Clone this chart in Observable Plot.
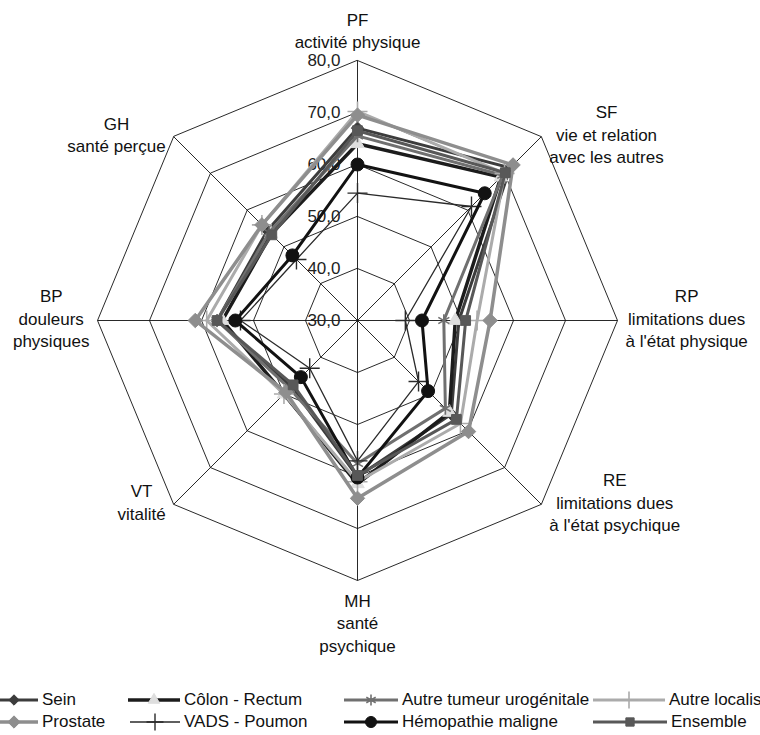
<!DOCTYPE html>
<html><head><meta charset="utf-8">
<script src="https://cdn.jsdelivr.net/npm/d3@7"></script>
<script src="https://cdn.jsdelivr.net/npm/@observablehq/plot@0.6"></script>
<style>
body{margin:0;background:#fff;font-family:"Liberation Sans",Arial,sans-serif;}
#wrap{width:760px;height:735px;position:relative;overflow:hidden;background:#fff;}
#wrap svg.plot{position:absolute;left:0;top:0;}
.leg{position:absolute;height:22px;display:flex;align-items:center;white-space:nowrap;font-size:17px;color:#111;}
.leg svg{flex:none;}
.leg span{margin-left:4px;}
</style></head><body><div id="wrap"></div>
<script>
// ---- data ----
const axes = ["PF","SF","RP","RE","MH","VT","BP","GH"];
const axisLabels = ["PF\nactivité physique","SF\nvie et relation\navec les autres","RP\nlimitations dues\nà l'état physique","RE\nlimitations dues\nà l'état psychique","MH\nsanté\npsychique","VT\nvitalité","BP\ndouleurs\nphysiques","GH\nsanté perçue"];
const ticks = [30,40,50,60,70,80];
const series = ["Sein","Côlon - Rectum","Autre tumeur urogénitale","Autre localisation","Prostate","VADS - Poumon","Hémopathie maligne","Ensemble"];
//                  PF    SF    RP    RE    MH    VT    BP    GH
const sein       = [67.0, 71.5, 49.5, 55.5, 60.0, 48.0, 57.0, 54.5];
const colon      = [64.0, 69.0, 48.8, 55.0, 61.4, 50.0, 56.0, 53.5];
const autreUro   = [65.5, 69.5, 46.6, 53.9, 57.5, 48.5, 57.0, 54.0];
const autreLoc   = [70.2, 70.0, 53.0, 58.0, 61.0, 50.0, 59.0, 56.0];
const prostate   = [69.5, 72.3, 55.5, 60.2, 64.2, 49.5, 61.2, 56.0];
const vads       = [54.5, 61.0, 39.2, 46.6, 57.0, 43.0, 52.5, 46.6];
const hemo       = [60.0, 64.6, 42.4, 49.2, 60.2, 45.4, 53.5, 47.7];
const ensemble   = [66.5, 70.2, 50.8, 56.9, 59.8, 47.5, 57.0, 53.3];
const seriesValues = [sein, colon, autreUro, autreLoc, prostate, vads, hemo, ensemble];

// ---- styles ----
const styles = [
  {stroke:"#3c3c3c", sw:3,   symbol:"diamond2", mfill:"#3c3c3c", mstroke:"#3c3c3c", r:5.5},
  {stroke:"#1c1c1c", sw:3.5, symbol:"triangle", mfill:"#dedede", mstroke:"#dedede", r:5},
  {stroke:"#707070", sw:3,   symbol:"asterisk", mfill:"none",    mstroke:"#707070", r:6, msw:1.6},
  {stroke:"#ababab", sw:3,   symbol:"plus",     mfill:"none",    mstroke:"#ababab", r:6.5, msw:1.6},
  {stroke:"#8e8e8e", sw:3.5, symbol:"diamond2", mfill:"#8e8e8e", mstroke:"#8e8e8e", r:6.5},
  {stroke:"#2a2a2a", sw:1.3, symbol:"plus",     mfill:"none",    mstroke:"#2a2a2a", r:6.5, msw:1.4},
  {stroke:"#121212", sw:3,   symbol:"circle",   mfill:"#121212", mstroke:"#121212", r:6.5},
  {stroke:"#585858", sw:3,   symbol:"square",   mfill:"#585858", mstroke:"#585858", r:5.5}
];

const W = 760, H = 680, K = 5.2, CX = 357, CY = 320, BASE = 30, MAXV = 80;
const ang = i => i * Math.PI / 4;

const marks = [];
// grid rings
const ringData = ticks.filter(t => t > BASE).flatMap(t => axes.map((a, i) => ({t, i})));
marks.push(Plot.line(ringData, {x: d => (d.t - BASE) * Math.sin(ang(d.i)), y: d => (d.t - BASE) * Math.cos(ang(d.i)), z: "t", curve: "linear-closed", stroke: "#111", strokeWidth: 0.9}));
// spokes
marks.push(Plot.link(axes.map((a, i) => i), {x1: d => 0, y1: d => 0, x2: d => (MAXV - BASE) * Math.sin(ang(d)), y2: d => (MAXV - BASE) * Math.cos(ang(d)), stroke: d => "#111", strokeWidth: 0.9}));
// tick labels
marks.push(Plot.text(ticks, {x: d => 0, y: d => d - BASE, text: d => d.toFixed(1).replace(".", ","), textAnchor: "end", dx: -17, fontSize: 17, fill: "#222"}));

// axis labels placed outside the outer vertex
const ctx = document.createElement("canvas").getContext("2d");
ctx.font = "17px 'Liberation Sans'";
const LH = 1.32, GAP = 8;
const labelData = axes.map((a, i) => {
  const lines = axisLabels[i].split("\n");
  const w = Math.max(...lines.map(l => ctx.measureText(l).width));
  const s = Math.sin(ang(i)), c = Math.cos(ang(i));
  let ox, oy;
  if (Math.abs(s) < 0.01) { ox = 0; oy = (c > 0 ? -1 : 1) * (lines.length * 17 * LH / 2 + GAP); }
  else { ox = Math.sign(s) * (w / 2 + GAP); oy = -3; }
  return {text: axisLabels[i], x: (MAXV - BASE) * s + ox / K, y: (MAXV - BASE) * c - oy / K};
});
marks.push(Plot.text(labelData, {x: "x", y: "y", text: "text", textAnchor: "middle", lineAnchor: "middle", lineHeight: LH, fontSize: 17, fill: "#111"}));

// series
series.forEach((name, k) => {
  const st = styles[k];
  const pts = seriesValues[k].map((v, i) => ({v, i}));
  const fx = d => (d.v - BASE) * Math.sin(ang(d.i)), fy = d => (d.v - BASE) * Math.cos(ang(d.i));
  marks.push(Plot.line(pts, {x: fx, y: fy, curve: "linear-closed", stroke: st.stroke, strokeWidth: st.sw, strokeLinejoin: "round"}));
  marks.push(Plot.dot(pts, {x: fx, y: fy, symbol: () => st.symbol, r: st.r, fill: st.mfill, stroke: st.mstroke, strokeWidth: st.msw || 1}));
});

const chart = Plot.plot({
  width: W, height: H, margin: 0,
  x: {axis: null, domain: [-CX / K, (W - CX) / K]},
  y: {axis: null, domain: [-(H - CY) / K, CY / K]},
  symbol: {type: "identity"},
  style: {fontFamily: "'Liberation Sans', Arial, sans-serif", fontSize: "17px", background: "#fff", overflow: "visible"},
  marks
});
const wrap = document.getElementById("wrap");
wrap.appendChild(chart);

// ---- legend (HTML below the SVG) ----
const legendLayout = [
  {left: -10, sw: 48, top: 689}, {left: 128, sw: 52, top: 689}, {left: 344, sw: 54, top: 689}, {left: 593, sw: 72, top: 689},
  {left: -10, sw: 48, top: 711}, {left: 130, sw: 50, top: 711}, {left: 344, sw: 54, top: 711}, {left: 593, sw: 74, top: 711}
];
const symMap = {diamond2: d3.symbolDiamond2 || d3.symbolDiamond, triangle: d3.symbolTriangle, asterisk: d3.symbolAsterisk || d3.symbolCross, plus: d3.symbolPlus || d3.symbolCross, circle: d3.symbolCircle, square: d3.symbolSquare};
series.forEach((name, k) => {
  const st = styles[k], L = legendLayout[k];
  const div = document.createElement("div");
  div.className = "leg";
  div.style.left = L.left + "px"; div.style.top = L.top + "px";
  const svg = d3.create("svg").attr("width", L.sw).attr("height", 22);
  svg.append("line").attr("x1", 0).attr("x2", L.sw).attr("y1", 11).attr("y2", 11).attr("stroke", st.stroke).attr("stroke-width", st.sw);
  const size = Math.PI * (st.r * 0.85) ** 2;
  svg.append("path").attr("transform", `translate(${L.sw / 2},11)`).attr("d", d3.symbol(symMap[st.symbol], size)())
    .attr("fill", st.mfill).attr("stroke", st.mstroke).attr("stroke-width", st.msw || 1);
  div.appendChild(svg.node());
  const sp = document.createElement("span"); sp.textContent = name;
  div.appendChild(sp);
  wrap.appendChild(div);
});
</script></body></html>
